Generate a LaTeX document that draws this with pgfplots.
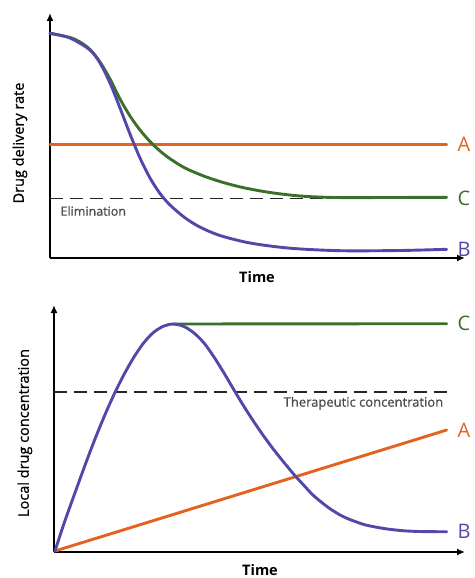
\documentclass[border=0pt]{standalone}
\usepackage{pgfplots}
\pgfplotsset{compat=1.18}
\usepackage{fontspec}
\setmainfont{Open Sans}
\newfontfamily\medfont{Open Sans}[FakeBold=0.8]
\usetikzlibrary{arrows.meta}
\definecolor{cA}{RGB}{228,98,32}
\definecolor{cB}{RGB}{82,72,170}
\definecolor{cC}{RGB}{58,112,42}
\begin{document}
\begin{tikzpicture}
\useasboundingbox (0,0) rectangle (474pt,-578pt);
\pgfplotsset{
  myax/.style={
    scale only axis, clip=false,
    axis lines=left,
    axis line style={black, line width=2.3pt, -{Latex[length=8pt,width=7pt]}},
    xtick=\empty, ytick=\empty,
    xmin=0, ymin=0,
    every axis plot/.append style={line width=2.9pt, line cap=round},
  }
}
% ---------- top panel ----------
\begin{axis}[myax, at={(50pt,-258pt)}, anchor=south west,
  width=415pt, height=245pt, xmax=415, ymax=245,
  xlabel={Time}, ylabel={Drug delivery rate},
  every axis x label/.style={at={(axis cs:207,-19)}, anchor=center, font=\bfseries\fontsize{14.5}{16}\selectfont},
  every axis y label/.style={at={(axis cs:-30,115)}, anchor=center, rotate=90, font=\medfont\fontsize{14.5}{16}\selectfont}]
\addplot[cA] coordinates {(0,113.7) (396.7,113.7)};
\addplot[black!85, line width=1.6pt, line cap=butt, dash pattern=on 13pt off 7pt] coordinates {(0,59.7) (396.7,59.7)};
\addplot[cC, smooth] coordinates {
(0,224.7) (20,220.5) (30,216) (40,208.5) (50,196) (60,179) (70,159) (80,142)
(90,128) (100,116.5) (110,107) (120,99.3) (135,90) (155,81.5) (175,75)
(195,70) (220,65.5) (250,62) (285,60.5) (340,60.5) (396.7,60.7)};
\addplot[cB, smooth] coordinates {
(0,224.7) (20,220) (40,208) (50,195) (60,175) (70,150) (80,124) (90,100)
(100,80) (110,64.5) (120,53) (135,40.2) (150,30.9) (170,22.5) (200,15)
(240,9.8) (290,7.3) (350,7.5) (396.7,8.7)};
\node[anchor=west, font=\medfont\fontsize{12.5}{14}\selectfont, text=black!70] at (axis cs:7,47) {Elimination};
\node[anchor=west, text=cA, font=\fontsize{20}{22}\selectfont] at (axis cs:404,113.7) {A};
\node[anchor=west, text=cC, font=\fontsize{20}{22}\selectfont] at (axis cs:404,59.7) {C};
\node[anchor=west, text=cB, font=\fontsize{20}{22}\selectfont] at (axis cs:404,8.7) {B};
\end{axis}
% ---------- bottom panel ----------
\begin{axis}[myax, at={(54pt,-552pt)}, anchor=south west,
  width=411pt, height=247pt, xmax=411, ymax=247,
  xlabel={Time}, ylabel={Local drug concentration},
  every axis x label/.style={at={(axis cs:206,-18)}, anchor=center, font=\bfseries\fontsize{14.5}{16}\selectfont},
  every axis y label/.style={at={(axis cs:-29,119)}, anchor=center, rotate=90, font=\medfont\fontsize{14.5}{16}\selectfont}]
\addplot[black!85, line width=1.6pt, line cap=butt, dash pattern=on 13pt off 7pt] coordinates {(0,160.3) (394,160.3)};
\addplot[cA] coordinates {(1,1) (392.7,122)};
\addplot[cC] coordinates {(119.3,228) (392.7,228.3)};
\addplot[cB, smooth] coordinates {
(1,1) (10,28.5) (20,56.5) (30,84) (40,110.5) (50,135) (60,157.5) (70,177.5)
(80,195) (90,209.5) (100,220) (110,226) (119.3,228) (130,225.5) (140,219)
(150,209) (160,195) (170,179) (180,162) (190,145.5) (200,130) (210,115.5)
(220,102) (230,89.5) (240,77.5) (250,66.5) (260,56) (275,44) (290,35)
(310,27.5) (330,23.5) (350,21.2) (370,20.4) (392.7,20.3)};
\node[anchor=east, font=\medfont\fontsize{13}{15}\selectfont, text=black!70] at (axis cs:392.7,148.7) {Therapeutic concentration};
\node[anchor=west, text=cC, font=\fontsize{20}{22}\selectfont] at (axis cs:400,228.3) {C};
\node[anchor=west, text=cA, font=\fontsize{20}{22}\selectfont] at (axis cs:400,122) {A};
\node[anchor=west, text=cB, font=\fontsize{20}{22}\selectfont] at (axis cs:400,20.3) {B};
\end{axis}
\end{tikzpicture}
\end{document}
